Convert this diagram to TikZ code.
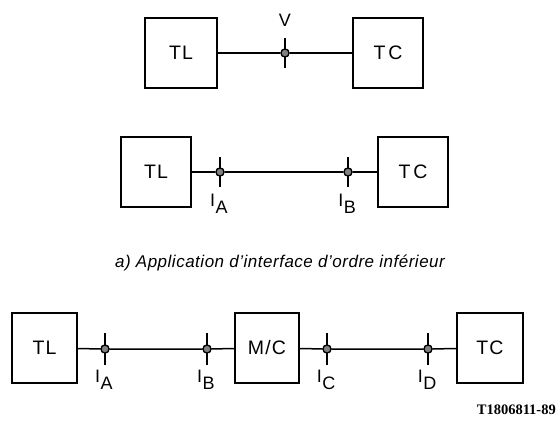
\documentclass[tikz,border=0pt]{standalone}
\usepackage{fontspec}
\setmainfont{Liberation Sans}
\newfontfamily\boxfont[LetterSpace=6]{Liberation Sans}
\newfontfamily\capfont[LetterSpace=3]{Liberation Sans}
\newfontfamily\refont{Liberation Serif}
\newcommand\Ilab[1]{I\kern0.5pt\raisebox{-7pt}{#1}}
\begin{document}
\begin{tikzpicture}[x=1pt,y=-1pt,
  blk/.style={draw,line width=2pt,minimum height=70pt,inner sep=0pt,font=\boxfont\fontsize{19.5}{22}\selectfont},
  conn/.style={line width=1.5pt},
  pt/.style={circle,draw,line width=1.2pt,fill=black!50,minimum size=8pt,inner sep=0pt},
  tick/.style={line width=1.5pt},
  lab/.style={anchor=north,inner sep=0pt,font=\fontsize{18}{20}\selectfont}]
\useasboundingbox (0,0) rectangle (557,421);
% Row 1
\node[blk,minimum width=72pt] (tl1) at (181,53) {TL};
\node[blk,minimum width=70pt] (tc1) at (388,53) {T\kern3pt C};
\node[pt] (v) at (285,53) {};
\draw[conn] (tl1) -- (v) -- (tc1);
\draw[tick] ([yshift=15pt]v.center) -- ([yshift=-15pt]v.center);
\node[pt] at (v) {};
\node[font=\fontsize{18}{20}\selectfont,inner sep=0pt] (vl) at (285,20) {V};
% Row 2
\node[blk,minimum width=70pt] (tl2) at (156,172) {TL};
\node[blk,minimum width=70pt] (tc2) at (413,172) {T\kern3pt C};
\node[pt] (ia2) at (220,172) {};
\node[pt] (ib2) at (348,172) {};
\draw[conn] (tl2) -- (ia2) -- (ib2) -- (tc2);
\foreach \p in {ia2,ib2}{
  \draw[tick] ([yshift=15pt]\p.center) -- ([yshift=-15pt]\p.center);
  \node[pt] at (\p) {};}
\node[lab] (la2) at (219,194) {\Ilab{A}};
\node[lab] (lb2) at (347,194) {\Ilab{B}};
% caption
\node[font=\capfont\itshape\fontsize{17}{19}\selectfont,inner sep=0pt] (cap) at (280,263)
  {a) Application d’interface d’ordre inférieur};
% Row 3
\node[blk,minimum width=65pt] (tl3) at (44.5,348) {TL};
\node[blk,minimum width=64pt] (mc3) at (267,348) {M/C};
\node[blk,minimum width=66pt] (tc3) at (490,348) {TC};
\node[pt] (ia3) at (105,349) {};
\node[pt] (ib3) at (207,349) {};
\node[pt] (ic3) at (327,349) {};
\node[pt] (id3) at (428,349) {};
\draw[conn] (tl3) -- (ia3) -- (ib3) -- (mc3);
\draw[conn] (mc3) -- (ic3) -- (id3) -- (tc3);
\foreach \p in {ia3,ib3,ic3,id3}{
  \draw[tick] ([yshift=16pt]\p.center) -- ([yshift=-16pt]\p.center);
  \node[pt] at (\p) {};}
\node[lab] (la3) at (104,370) {\Ilab{A}};
\node[lab] (lb3) at (206,370) {\Ilab{B}};
\node[lab] (lc3) at (326,370) {\Ilab{C}};
\node[lab] (ld3) at (427,370) {\Ilab{D}};
% reference
\node[font=\refont\bfseries\fontsize{14.5}{16}\selectfont,inner sep=0pt,anchor=base east] (ref) at (556,414) {T1806811-89};
\end{tikzpicture}
\end{document}
